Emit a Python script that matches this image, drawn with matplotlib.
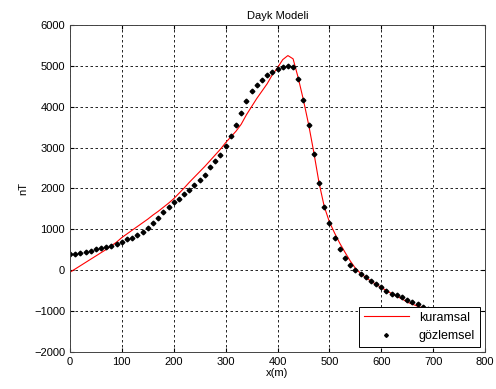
import matplotlib
matplotlib.use('Agg')
import matplotlib.pyplot as plt

# x positions (m), 10 m step
x_m = list(range(0, 710, 10))

# theoretical anomaly (nT)
kuramsal = [-50, 30, 110, 190, 270, 350, 430, 510, 600, 690,
            800, 890, 980, 1070, 1160, 1250, 1350, 1440, 1540, 1640,
            1750, 1880, 2010, 2150, 2280, 2410, 2540, 2680, 2820, 2960,
            3120, 3260, 3400, 3570, 3800, 4000, 4200, 4380, 4560, 4780,
            4950, 5150, 5250, 5170, 4700, 4160, 3560, 2880, 2140, 1560,
            1180, 910, 660, 440, 230, 50, -75, -175, -265, -345,
            -420, -500, -570, -640, -700, -780, -830, -880, -920, -960,
            -1000]

# observed anomaly (nT)
gozlemsel = [401, 405, 433, 450, 474, 515, 540, 564, 597, 654,
             703, 760, 800, 866, 939, 1029, 1150, 1289, 1428, 1542,
             1664, 1754, 1868, 1966, 2088, 2210, 2340, 2520, 2667, 2830,
             3030, 3293, 3555, 3856, 4142, 4379, 4533, 4648, 4770, 4859,
             4924, 4981, 5000, 4960, 4672, 4160, 3555, 2850, 2129, 1543,
             1152, 792, 516, 300, 140, 15, -80, -170, -255, -340,
             -420, -503, -572, -617, -665, -723, -780, -820, -890, -940,
             -990]

x_ticks = [0, 100, 200, 300, 400, 500, 600, 700, 800]
y_ticks = [-2000, -1000, 0, 1000, 2000, 3000, 4000, 5000, 6000]


def run():
    plt.rcParams['font.family'] = ['Liberation Sans', 'DejaVu Sans']
    plt.rcParams['font.size'] = 8
    fig = plt.figure(figsize=(4.96, 3.89), dpi=100)
    ax = fig.add_axes([0.141, 0.095, 0.837, 0.841])

    ax.plot(x_m, kuramsal, color='red', linewidth=0.8, label='kuramsal')
    ax.plot(x_m, gozlemsel, linestyle='none', marker='D', markersize=2.4,
            color='black', label='gözlemsel')

    ax.set_xlim(0, 800)
    ax.set_ylim(-2000, 6000)
    ax.set_xticks(x_ticks)
    ax.set_yticks(y_ticks)
    ax.grid(True, color='black', linestyle=(0, (3, 3)), linewidth=0.6)
    ax.tick_params(direction='in', top=True, right=True, length=3, labelsize=8)
    for sp in ax.spines.values():
        sp.set_linewidth(0.7)
        sp.set_color('#444444')

    ax.set_title('Dayk Modeli', fontsize=8, pad=4)
    ax.set_xlabel('x(m)', fontsize=8, labelpad=1)
    ax.set_ylabel('nT', fontsize=8, labelpad=4)

    leg = ax.legend(loc='lower right', fontsize=9, fancybox=False,
                    framealpha=1, edgecolor='black', borderaxespad=0.4,
                    handlelength=3.6, markerscale=0.8, labelspacing=0.5)
    leg.get_frame().set_linewidth(0.7)

    fig.savefig('out.png', dpi=100)


if __name__ == '__main__':
    run()
